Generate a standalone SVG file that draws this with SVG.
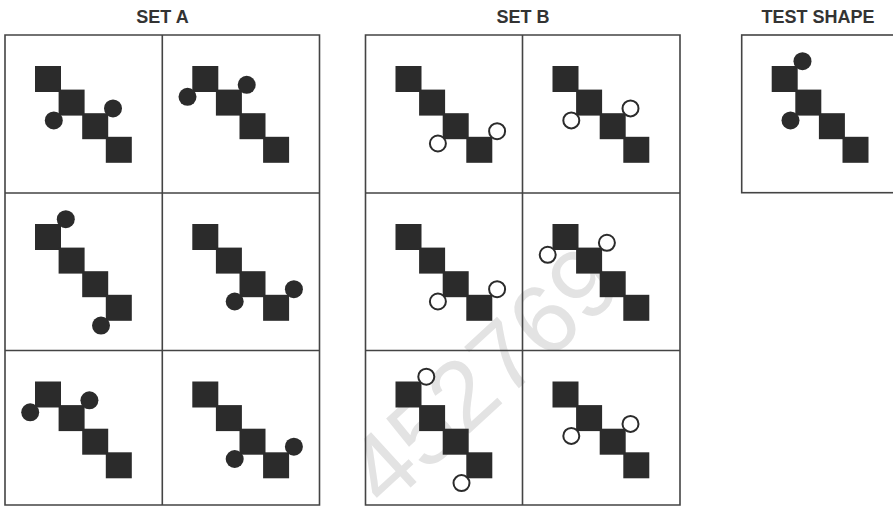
<svg xmlns="http://www.w3.org/2000/svg" width="893" height="507" viewBox="0 0 893 507">
<style>
.title{font-family:"Liberation Sans",Arial,sans-serif;font-weight:700;font-size:18px;fill:#333;text-anchor:middle}
.grid{fill:none;stroke:#444;stroke-width:1.6}
.sq{fill:#2b2b2b}
.dot{fill:#2b2b2b}
.ring{fill:#fff;stroke:#2b2b2b;stroke-width:2}
.wm{font-family:"Liberation Sans",Arial,sans-serif;font-size:98px;fill:#e3e3e3;text-anchor:middle}
</style>
<defs>
<g id="stair">
<rect class="sq" x="30" y="31" width="26" height="26"/>
<rect class="sq" x="53.6" y="54.6" width="26" height="26"/>
<rect class="sq" x="77.2" y="78.2" width="26" height="26"/>
<rect class="sq" x="100.8" y="101.8" width="26" height="26"/>
</g>
</defs>
<rect width="893" height="507" fill="#fff"/>
<text class="wm" transform="translate(506,400) rotate(-42.5)">452769</text>

<text class="title" x="162.5" y="22.5">SET A</text>
<text class="title" x="523" y="22.5">SET B</text>
<text class="title" x="818" y="22.5">TEST SHAPE</text>

<g id="grids">
<path class="grid" d="M5,35H319.5V505H5Z M162.3,35V505 M5,193H319.5 M5,350.5H319.5"/>
<path class="grid" d="M365.5,35H680V505H365.5Z M522.5,35V505 M365.5,193H680 M365.5,350.5H680"/>
<rect class="grid" x="741.7" y="35" width="157.3" height="157.7"/>
</g>

<g id="a11" transform="translate(5,35)"><use href="#stair"/><circle class="dot" cx="48.8" cy="85.4" r="9"/><circle class="dot" cx="108" cy="73.4" r="9"/></g>
<g id="a12" transform="translate(162.3,35)"><use href="#stair"/><circle class="dot" cx="25.2" cy="61.8" r="9"/><circle class="dot" cx="84.4" cy="49.8" r="9"/></g>
<g id="a21" transform="translate(5,193)"><use href="#stair"/><circle class="dot" cx="60.8" cy="26.2" r="9"/><circle class="dot" cx="96" cy="132.6" r="9"/></g>
<g id="a22" transform="translate(162.3,193)"><use href="#stair"/><circle class="dot" cx="72.4" cy="108.5" r="9"/><circle class="dot" cx="131.6" cy="96.2" r="9"/></g>
<g id="a31" transform="translate(5,350.5)"><use href="#stair"/><circle class="dot" cx="25.2" cy="61.8" r="9"/><circle class="dot" cx="84.4" cy="49.8" r="9"/></g>
<g id="a32" transform="translate(162.3,350.5)"><use href="#stair"/><circle class="dot" cx="72.4" cy="108.5" r="9"/><circle class="dot" cx="131.6" cy="96.2" r="9"/></g>

<g id="b11" transform="translate(365.5,35)"><use href="#stair"/><circle class="ring" cx="72.4" cy="108.5" r="8"/><circle class="ring" cx="131.6" cy="96.2" r="8"/></g>
<g id="b12" transform="translate(522.5,35)"><use href="#stair"/><circle class="ring" cx="48.8" cy="85.4" r="8"/><circle class="ring" cx="108" cy="73.4" r="8"/></g>
<g id="b21" transform="translate(365.5,193)"><use href="#stair"/><circle class="ring" cx="72.4" cy="108.5" r="8"/><circle class="ring" cx="131.6" cy="96.2" r="8"/></g>
<g id="b22" transform="translate(522.5,193)"><use href="#stair"/><circle class="ring" cx="25.2" cy="61.8" r="8"/><circle class="ring" cx="84.4" cy="49.8" r="8"/></g>
<g id="b31" transform="translate(365.5,350.5)"><use href="#stair"/><circle class="ring" cx="60.8" cy="26.2" r="8"/><circle class="ring" cx="96" cy="132.6" r="8"/></g>
<g id="b32" transform="translate(522.5,350.5)"><use href="#stair"/><circle class="ring" cx="48.8" cy="85.4" r="8"/><circle class="ring" cx="108" cy="73.4" r="8"/></g>

<g id="test" transform="translate(741.7,35)"><use href="#stair"/><circle class="dot" cx="60.8" cy="26.2" r="9"/><circle class="dot" cx="48.8" cy="85.4" r="9"/></g>
</svg>
